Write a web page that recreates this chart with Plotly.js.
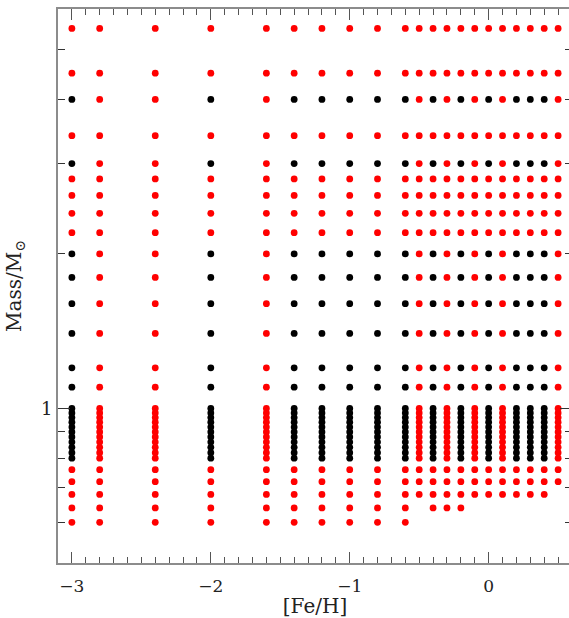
<!DOCTYPE html>
<html>
<head>
<meta charset="utf-8">
<script src="https://cdn.plot.ly/plotly-3.0.1.min.js"></script>
<style>
html, body { margin: 0; padding: 0; overflow: hidden; background: #fff; }
#chart { width: 580px; height: 618px; }
</style>
</head>
<body>
<div id="chart"></div>
<script>
// [Fe/H] grid columns
const feh = [-3.0, -2.8, -2.4, -2.0, -1.6, -1.4, -1.2, -1.0, -0.8, -0.6, -0.5, -0.4, -0.3, -0.2, -0.1, 0.0, 0.1, 0.2, 0.3, 0.4, 0.5];
// columns where the "black" subset of masses is present
const blackFeh = [-3.0, -2.0, -1.4, -1.2, -1.0, -0.8, -0.6, -0.4, -0.2, 0.0, 0.2, 0.3, 0.4];
// masses that are black in the black columns (red elsewhere)
const blackMass = [4.0, 3.0, 2.0, 1.8, 1.6, 1.4, 1.2, 1.1, 1.00, 0.98, 0.96, 0.94, 0.92, 0.90, 0.88, 0.86, 0.84, 0.82, 0.80];
// masses always red, in every column
const redMass = [5.5, 4.5, 3.4, 2.8, 2.6, 2.4, 2.2];
// low masses (red), present down to a column-dependent limit
const lowMass = [0.76, 0.72, 0.68, 0.64, 0.60];
const lowestMass = [0.60, 0.60, 0.60, 0.60, 0.60, 0.60, 0.60, 0.60, 0.60, 0.60, 0.68, 0.64, 0.64, 0.64, 0.68, 0.68, 0.68, 0.68, 0.68, 0.68, 0.72];
// y tick positions (only "1" labelled)
const yMinorTicks = [0.5, 0.6, 0.7, 0.8, 0.9, 2, 3, 4, 5];
const yMajorTicks = [1];
const yMajorLabels = ['1'];

const bx = [], by = [], rx = [], ry = [];
feh.forEach((f, i) => {
  const isBlack = blackFeh.includes(f);
  redMass.forEach(m => { rx.push(f); ry.push(m); });
  blackMass.forEach(m => {
    if (isBlack) { bx.push(f); by.push(m); } else { rx.push(f); ry.push(m); }
  });
  lowMass.forEach(m => { if (m >= lowestMass[i] - 1e-9) { rx.push(f); ry.push(m); } });
});

const mk = (c) => ({ color: c, size: 6.8, line: { width: 0 } });
const data = [
  { x: rx, y: ry, type: 'scatter', mode: 'markers', marker: mk('#ff0000'), hoverinfo: 'none' },
  { x: bx, y: by, type: 'scatter', mode: 'markers', marker: mk('#000000'), hoverinfo: 'none' }
];

const font = { family: 'DejaVu Serif, Liberation Serif, serif', color: '#222' };
const layout = {
  width: 580, height: 618,
  margin: { l: 58, r: 8, t: 9, b: 55 },
  paper_bgcolor: '#fff', plot_bgcolor: '#fff',
  showlegend: false,
  xaxis: {
    range: [-3.1, 0.6], showgrid: false, zeroline: false,
    showline: true, linecolor: '#8c8c8c', linewidth: 2, mirror: 'ticks',
    ticks: 'inside', ticklen: 11, tickwidth: 1, tickcolor: '#555',
    tickmode: 'array', tickvals: [-3, -2, -1, 0], ticktext: ['\u22123', '\u22122', '\u22121', '0'],
    minor: { ticks: 'inside', dtick: 0.1, tick0: 0, ticklen: 6, tickwidth: 1, tickcolor: '#555', showgrid: false },
    tickfont: Object.assign({ size: 17 }, font),
    ticklabelstandoff: 7,
    title: { text: '[Fe/H]', font: Object.assign({ size: 20 }, font), standoff: 12 }
  },
  yaxis: {
    type: 'log', range: [Math.log10(0.5), Math.log10(6)], showgrid: false, zeroline: false,
    showline: true, linecolor: '#8c8c8c', linewidth: 2, mirror: 'ticks',
    ticks: 'inside', ticklen: 12, tickwidth: 1, tickcolor: '#333',
    tickmode: 'array', tickvals: yMajorTicks, ticktext: yMajorLabels,
    minor: { ticks: 'inside', tickmode: 'array', tickvals: yMinorTicks, ticklen: 7, tickwidth: 1, tickcolor: '#333', showgrid: false },
    tickfont: Object.assign({ size: 18 }, font),
    title: { text: 'Mass/M<sub>\u2299</sub>', font: Object.assign({ size: 20 }, font), standoff: 14 }
  }
};

Plotly.newPlot('chart', data, layout, { staticPlot: true, displayModeBar: false });
</script>
</body>
</html>
